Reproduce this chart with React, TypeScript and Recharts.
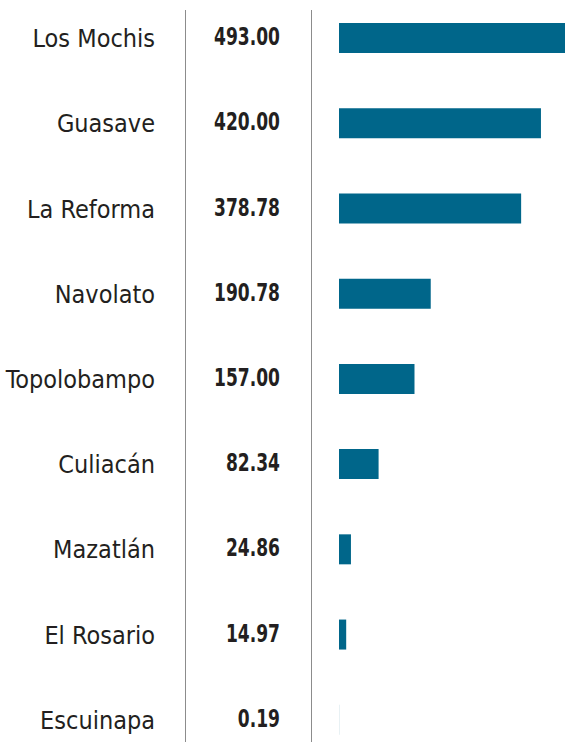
import React from 'react';
import { BarChart, Bar, XAxis, YAxis } from 'recharts';

const puertos = ['Los Mochis', 'Guasave', 'La Reforma', 'Navolato', 'Topolobampo', 'Culiacán', 'Mazatlán', 'El Rosario', 'Escuinapa'];
const valores = [493.0, 420.0, 378.78, 190.78, 157.0, 82.34, 24.86, 14.97, 0.19];
const etiquetas = ['493.00', '420.00', '378.78', '190.78', '157.00', '82.34', '24.86', '14.97', '0.19'];

const data = puertos.map((name, i) => ({ name, value: valores[i], label: etiquetas[i] }));

const FONT = "'Liberation Sans Narrow', 'DejaVu Sans Condensed', 'Liberation Sans', sans-serif";
const BAR_COLOR = '#00668a';
const LINE_COLOR = '#8c8c8c';
const TEXT_COLOR = '#231f20';

const vline = (left: number): React.CSSProperties => ({
  position: 'absolute',
  left,
  top: 10,
  bottom: 0,
  width: 1,
  background: LINE_COLOR,
});

// valores en negrita, comprimidos a lo ancho para parecerse a la condensada original
const ValueTick = (props: any) => {
  const { x, y, payload } = props;
  return (
    <g transform={`translate(${x},${y}) scale(0.76,1)`}>
      <text textAnchor="end" dy="0.3em" fill={TEXT_COLOR} fontSize={25} fontWeight={700} fontFamily={FONT}>
        {payload.value}
      </text>
    </g>
  );
};

const NameTick = (props: any) => {
  const { x, y, payload } = props;
  return (
    <g transform={`translate(${x},${y})`}>
      <text textAnchor="end" dy="0.38em" fill={TEXT_COLOR} fontSize={25} fontFamily={FONT}>
        {payload.value}
      </text>
    </g>
  );
};

export default function App() {
  return (
    <div style={{ position: 'fixed', top: 0, left: 0, width: 565, height: 742, overflow: 'hidden', background: '#fff' }}>
      <div style={{ position: 'absolute', top: -5, left: 0 }}>
        <BarChart
          width={565}
          height={767}
          data={data}
          layout="vertical"
          margin={{ top: 0, right: 0, bottom: 0, left: 0 }}
        >
          <XAxis type="number" hide domain={[0, 470]} allowDataOverflow />
          <YAxis
            yAxisId="nombres"
            type="category"
            dataKey="name"
            width={185}
            axisLine={false}
            tickLine={false}
            tickMargin={24}
            tick={<NameTick />}
          />
          <YAxis
            yAxisId="cifras"
            type="category"
            dataKey="label"
            width={154}
            axisLine={false}
            tickLine={false}
            tickMargin={53}
            tick={<ValueTick />}
          />
          <Bar yAxisId="cifras" dataKey="value" fill={BAR_COLOR} barSize={30} isAnimationActive={false} />
        </BarChart>
      </div>
      <div style={vline(185)} />
      <div style={vline(311)} />
    </div>
  );
}
